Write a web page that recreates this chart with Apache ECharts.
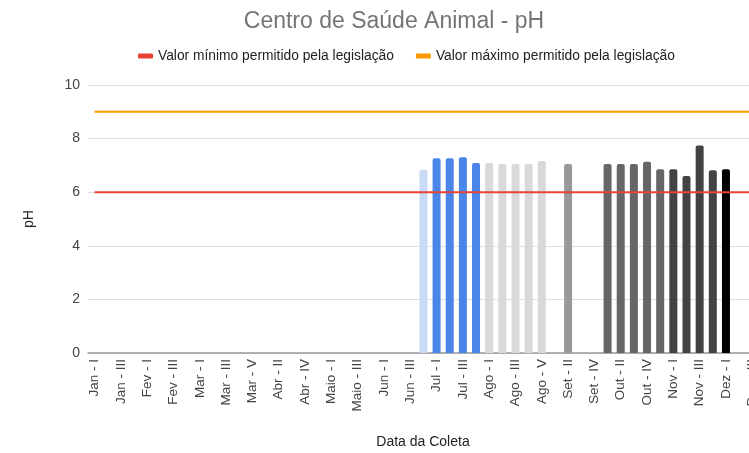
<!DOCTYPE html>
<html>
<head>
<meta charset="utf-8">
<script src="https://cdn.jsdelivr.net/npm/echarts@6/dist/echarts.min.js"></script>
<style>
  html, body { margin: 0; padding: 0; background: #fff; }
  #chart { width: 749px; height: 453px; }
</style>
</head>
<body>
<div id="chart"></div>
<script>
// semanas de coleta
const semanas = [
  'Jan - I', 'Jan - II', 'Jan - III', 'Jan - IV',
  'Fev - I', 'Fev - II', 'Fev - III', 'Fev - IV',
  'Mar - I', 'Mar - II', 'Mar - III', 'Mar - IV', 'Mar - V',
  'Abr - I', 'Abr - II', 'Abr - III', 'Abr - IV', 'Abr - V',
  'Maio - I', 'Maio - II', 'Maio - III', 'Maio - IV',
  'Jun - I', 'Jun - II', 'Jun - III', 'Jun - IV',
  'Jul - I', 'Jul - II', 'Jul - III', 'Jul - IV',
  'Ago - I', 'Ago - II', 'Ago - III', 'Ago - IV', 'Ago - V',
  'Set - I', 'Set - II', 'Set - III', 'Set - IV',
  'Out - I', 'Out - II', 'Out - III', 'Out - IV', 'Out - V',
  'Nov - I', 'Nov - II', 'Nov - III', 'Nov - IV',
  'Dez - I', 'Dez - II', 'Dez - III', 'Dez - IV'
];

// valores de pH medidos (null = sem coleta)
const valoresPH = [
  null, null, null, null,
  null, null, null, null,
  null, null, null, null, null,
  null, null, null, null, null,
  null, null, null, null,
  null, null, null, 6.84,
  7.27, 7.27, 7.3, 7.09,
  7.09, 7.05, 7.05, 7.05, 7.16,
  null, 7.05, null, null,
  7.05, 7.05, 7.05, 7.14, 6.86,
  6.86, 6.6, 7.74, 6.82,
  6.86, null, null, null
];

// cor de cada mês
const coresMes = {
  Jan: '#c9daf8', Fev: '#c9daf8', Mar: '#c9daf8', Abr: '#c9daf8', Maio: '#c9daf8',
  Jun: '#c9daf8', Jul: '#4a86e8', Ago: '#d9d9d9', Set: '#999999',
  Out: '#666666', Nov: '#434343', Dez: '#000000'
};

const limiteMinimo = semanas.map(() => 6);
const limiteMaximo = semanas.map(() => 9);

const chart = echarts.init(document.getElementById('chart'));
const fonte = 'Liberation Sans, Arial, sans-serif';

chart.setOption({
  animation: false,
  title: {
    text: 'Centro de Saúde Animal - pH',
    left: 389,
    textAlign: 'center',
    top: 5,
    textStyle: { fontFamily: fonte, fontSize: 23, fontWeight: 'normal', color: '#757575' }
  },
  legend: {
    data: ['Valor mínimo permitido pela legislação', 'Valor máximo permitido pela legislação'],
    left: 133,
    top: 44,
    icon: 'roundRect',
    itemWidth: 15,
    itemHeight: 5,
    itemGap: 22,
    textStyle: { fontFamily: fonte, fontSize: 13.8, color: '#222' }
  },
  // o gráfico original está cortado à direita
  grid: { left: 88, top: 85, width: 684, height: 268, outerBoundsMode: 'none', containLabel: false },
  xAxis: {
    type: 'category',
    data: semanas,
    name: 'Data da Coleta',
    nameLocation: 'middle',
    nameGap: 82,
    nameTextStyle: { fontFamily: fonte, fontSize: 14, color: '#222', padding: [0, 14, 0, 0] },
    axisLine: { lineStyle: { color: '#999', width: 1.5 } },
    axisTick: { show: false },
    axisLabel: {
      rotate: 90,
      interval: 1,
      margin: 6,
      fontFamily: fonte,
      fontSize: 13.5,
      color: '#444'
    }
  },
  yAxis: {
    type: 'value',
    min: 0,
    max: 10,
    interval: 2,
    name: 'pH',
    nameLocation: 'middle',
    nameGap: 52,
    nameTextStyle: { fontFamily: fonte, fontSize: 14, color: '#222' },
    axisLabel: { fontFamily: fonte, fontSize: 14, color: '#444', margin: 8 },
    splitLine: { lineStyle: { color: '#e0e0e0' } },
    axisLine: { show: false },
    axisTick: { show: false }
  },
  series: [
    {
      name: 'pH',
      type: 'bar',
      barWidth: 8,
      data: valoresPH.map((v, i) => ({
        value: v,
        itemStyle: { color: coresMes[semanas[i].split(' ')[0]], borderRadius: [2, 2, 0, 0] }
      }))
    },
    {
      name: 'Valor mínimo permitido pela legislação',
      type: 'line',
      data: limiteMinimo,
      symbol: 'none',
      color: '#ea4335',
      lineStyle: { color: '#ea4335', width: 2 }
    },
    {
      name: 'Valor máximo permitido pela legislação',
      type: 'line',
      data: limiteMaximo,
      symbol: 'none',
      color: '#ff9900',
      lineStyle: { color: '#ff9900', width: 2 }
    }
  ]
});
</script>
</body>
</html>
